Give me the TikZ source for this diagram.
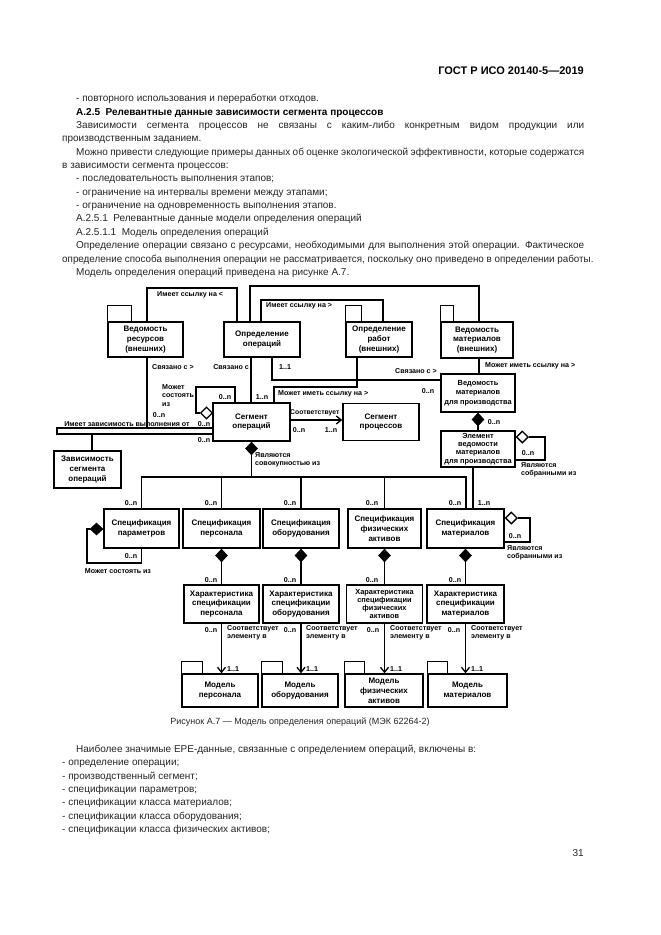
\documentclass[tikz,border=0pt]{standalone}
\usepackage{fontspec}
\setmainfont{Liberation Sans}
\usetikzlibrary{shapes.geometric,arrows.meta}
\newcommand\bxf{\fontsize{8}{9.8}\selectfont\bfseries}
\newcommand\bxh{\fontsize{7.4}{9.6}\selectfont\bfseries}
\newcommand\bxg{\fontsize{7.4}{8.3}\selectfont\bfseries}
\newcommand\lbf{\fontsize{7.1}{8.8}\selectfont\bfseries}
\newcommand\txf{\fontsize{10}{12}\selectfont}
\begin{document}
\begin{tikzpicture}[x=1pt,y=-1pt,
  box/.style={draw, line width=1.4pt, align=center, inner sep=0pt, font=\bxf},
  lbl/.style={inner sep=0pt, font=\lbf},
  txt/.style={inner sep=0pt, font=\txf, anchor=base west, text=black!85},
  conn/.style={line width=1.3pt},
  fdia/.style={diamond, draw, fill=black, line width=0.6pt, inner sep=0pt, minimum width=12pt, minimum height=13pt},
  odia/.style={diamond, draw, fill=white, line width=1.3pt, inner sep=0pt, minimum width=12pt, minimum height=12pt},
  arr/.style={conn, -{Straight Barb[length=5pt,width=8pt,line width=1.3pt]}},
  tabbox/.style={line width=1.4pt}
]
\useasboundingbox[fill=white] (0,0) rectangle (661,935);

% ---------- page text ----------
\node[txt, anchor=base east, text=black] (hdr) at (584,74) {\fontsize{11}{13}\selectfont\bfseries ГОСТ Р ИСО 20140-5—2019};
\node[txt] (t1) at (76,101.5) {- повторного использования и переработки отходов.};
\node[txt, text=black] (t2) at (76,115) {\bfseries А.2.5\ \ Релевантные данные зависимости сегмента процессов};
\node[txt] (t3) at (76,128.3) {\makebox[508pt][s]{Зависимости сегмента процессов не связаны с каким-либо конкретным видом продукции или}};
\node[txt] (t4) at (62,141.6) {производственным заданием.};
\node[txt] (t5) at (76,155) {\makebox[508pt][s]{Можно привести следующие примеры данных об оценке экологической эффективности, которые содержатся}};
\node[txt] (t6) at (62,168.4) {в зависимости сегмента процессов:};
\node[txt] (t7) at (76,181.8) {- последовательность выполнения этапов;};
\node[txt] (t8) at (76,195.2) {- ограничение на интервалы времени между этапами;};
\node[txt] (t9) at (76,208.5) {- ограничение на одновременность выполнения этапов.};
\node[txt] (t10) at (76,221.9) {А.2.5.1\ \ Релевантные данные модели определения операций};
\node[txt] (t11) at (76,235.3) {А.2.5.1.1\ \ Модель определения операций};
\node[txt] (t12) at (76,248.7) {\makebox[508pt][s]{Определение операции связано с ресурсами, необходимыми для выполнения этой операции. Фактическое}};
\node[txt] (t13) at (62,262.1) {\scalebox{0.984}[1]{определение способа выполнения операции не рассматривается, поскольку оно приведено в определении работы.}};
\node[txt] (t14) at (76,275.5) {Модель определения операций приведена на рисунке А.7.};

\node[txt, anchor=base] (cap) at (300,724) {\fontsize{9}{11}\selectfont Рисунок А.7 — Модель определения операций (МЭК 62264-2)};

\node[txt] (b1) at (76,752.5) {Наиболее значимые EPE-данные, связанные с определением операций, включены в:};
\node[txt] (b2) at (62,765.8) {- определение операции;};
\node[txt] (b3) at (62,779.1) {- производственный сегмент;};
\node[txt] (b4) at (62,792.4) {- спецификации параметров;};
\node[txt] (b5) at (62,805.7) {- спецификации класса материалов;};
\node[txt] (b6) at (62,819) {- спецификации класса оборудования;};
\node[txt] (b7) at (62,832.3) {- спецификации класса физических активов;};
\node[txt, anchor=base east] (pg) at (584,856) {31};

% ---------- boxes ----------
\node[box, minimum width=75pt, minimum height=35pt] (vr) at (145.5,339.5) {Ведомость\\ресурсов\\(внешних)};
\node[box, minimum width=76pt, minimum height=35pt] (oo) at (262,339.5) {Определение\\операций};
\node[box, minimum width=66pt, minimum height=35pt] (ow) at (379,339.5) {Определение\\работ\\(внешних)};
\node[box, minimum width=72pt, minimum height=36pt] (vm) at (477,340) {Ведомость\\материалов\\(внешних)};
\node[box, font=\bxh, minimum width=74pt, minimum height=38pt] (vmp) at (478,393) {Ведомость\\материалов\\для производства};
\node[box, minimum width=77pt, minimum height=38pt] (so) at (251.5,422) {Сегмент\\операций};
\node[box, minimum width=76pt, minimum height=37pt] (sp) at (381,422) {Сегмент\\процессов};
\node[box, minimum width=67pt, minimum height=37pt] (zso) at (87.5,469.5) {Зависимость\\сегмента\\операций};
\node[box, font=\bxg, minimum width=74pt, minimum height=36pt] (evm) at (478,449) {Элемент\\ведомости\\материалов\\для производства};

\node[box, minimum width=75pt, minimum height=39pt] (spp) at (141.5,528.5) {Спецификация\\параметров};
\node[box, minimum width=77pt, minimum height=39pt] (spe) at (221.5,528.5) {Спецификация\\персонала};
\node[box, minimum width=76pt, minimum height=39pt] (sob) at (301,528.5) {Спецификация\\оборудования};
\node[box, minimum width=73pt, minimum height=39pt] (sfa) at (384.5,528.5) {Спецификация\\физических\\активов};
\node[box, minimum width=77pt, minimum height=39pt] (smt) at (465.5,528.5) {Спецификация\\материалов};

\node[box, minimum width=75pt, minimum height=38pt] (cpe) at (221.5,604) {Характеристика\\спецификации\\персонала};
\node[box, minimum width=76pt, minimum height=38pt] (cob) at (301,604) {Характеристика\\спецификации\\оборудования};
\node[box, font=\bxg, minimum width=76pt, minimum height=38pt] (cfa) at (384.5,604) {Характеристика\\спецификации\\физических\\активов};
\node[box, minimum width=77pt, minimum height=38pt] (cmt) at (465.5,604) {Характеристика\\спецификации\\материалов};

\node[box, minimum width=76pt, minimum height=33pt] (mpe) at (220,690.5) {Модель\\персонала};
\node[box, minimum width=76pt, minimum height=33pt] (mob) at (300,690.5) {Модель\\оборудования};
\node[box, minimum width=78pt, minimum height=33pt] (mfa) at (384,690.5) {Модель\\физических\\активов};
\node[box, minimum width=79pt, minimum height=33pt] (mmt) at (467.5,690.5) {Модель\\материалов};

% package tabs
\draw[tabbox] (vr.north west) rectangle ++(24,-16);
\draw[tabbox] (ow.north west) rectangle ++(16,-16);
\draw[tabbox] (vm.north west) rectangle ++(13,-16);
\draw[tabbox] (mpe.north west) rectangle ++(21,-12);
\draw[tabbox] (mob.north west) rectangle ++(21,-12);
\draw[tabbox] (mfa.north west) rectangle ++(20,-12);
\draw[tabbox] (mmt.north west) rectangle ++(20,-12);

% ---------- connectors (top) ----------
\draw[conn] (vr.north -| 147,0) -- (147,288) -- (237,288) -- (oo.north -| 237,0);
\draw[conn] (oo.north -| 250,0) -- (250,286) -- (479,286) -- (vm.north -| 479,0);
\draw[conn] (oo.north -| 261,0) -- (261,300) -- (383,300) -- (ow.north -| 383,0);
\draw[conn] (vm.south -| 479,0) -- (vmp.north -| 479,0);
\draw[conn] (oo.south -| 251,0) -- (so.north -| 251,0);
\draw[conn] (oo.south -| 272,0) |- (vmp.west |- 0,380);
\draw[conn] (ow.south -| 357,0) |- (274,387) -- (so.north -| 274,0);
\draw[conn] (vr.south -| 147,0) -- (147,428);
\draw[conn] (so.west |- 0,428) -- (57,428) -- (57,434) -- (so.west |- 0,434);
\draw[conn] (92,434) -- (zso.north -| 92,0);
\node[odia] (d1) at (206.5,413) {};
\draw[conn] (d1.west) -- (196,413) -- (196,387) -- (235,387) -- (so.north -| 235,0);
\draw[arr] (so.east |- 0,420) -- (sp.west |- 0,420);

% ---------- composition tree ----------
\node[fdia, anchor=north] (d2) at (so.south) {};
\draw[conn] (d2.south) -- (d2.south |- 0,477);
\draw[conn] (spp.north) -- (spp.north |- 0,477) -- (466,477) -- (smt.north -| 466,0);
\draw[conn] (spe.north) -- (spe.north |- 0,477);
\draw[conn] (sob.north) -- (sob.north |- 0,477);
\draw[conn] (sfa.north) -- (sfa.north |- 0,477);

\node[fdia, anchor=north] (d3) at (vmp.south) {};
\draw[conn] (d3.south) -- (evm.north);
\node[odia, anchor=west] (d4) at (evm.east |- 0,437) {};
\draw[conn] (d4.east) -- (545,437) -- (545,460) -- (evm.east |- 0,460);
\draw[conn] (evm.south -| 473,0) -- (smt.north -| 473,0);

\node[fdia, anchor=east, minimum width=13pt, minimum height=12pt] (d5) at (spp.west |- 0,529) {};
\draw[conn] (d5.west) -- (87,529) -- (87,563) -- (spp.south |- 0,563) -- (spp.south);
\node[odia, anchor=west] (d6) at (smt.east |- 0,518) {};
\draw[conn] (d6.east) -- (530,518) -- (530,542) -- (smt.east |- 0,542);

\node[fdia, anchor=north] (d7) at (spe.south) {};
\draw[conn] (d7.south) -- (cpe.north);
\node[fdia, anchor=north] (d8) at (sob.south) {};
\draw[conn] (d8.south) -- (cob.north);
\node[fdia, anchor=north] (d9) at (sfa.south) {};
\draw[conn] (d9.south) -- (cfa.north);
\node[fdia, anchor=north] (d10) at (smt.south) {};
\draw[conn] (d10.south) -- (cmt.north);

\draw[arr] (cpe.south) -- (cpe.south |- mpe.north);
\draw[arr] (cob.south) -- (cob.south |- mob.north);
\draw[arr] (cfa.south) -- (cfa.south |- mfa.north);
\draw[arr] (cmt.south) -- (cmt.south |- mmt.north);

% ---------- labels ----------
\node[lbl, anchor=west] (l1) at (157,295) {Имеет ссылку на <};
\node[lbl, anchor=west] (l2) at (266,306) {Имеет ссылку на >};
\node[lbl, anchor=west] (l3) at (152,367) {Связано с >};
\node[lbl, anchor=east] (l4) at (249,367) {Связано с};
\node[lbl, anchor=west] (l5) at (279,367) {1..1};
\node[lbl, anchor=east] (l6) at (437,371) {Связано с >};
\node[lbl] (l7) at (428,391) {0..n};
\node[lbl, anchor=west] (l8) at (485,366) {Может иметь ссылку на >};
\node[lbl, anchor=north west, align=left] (l9) at (162,384) {Может\\состоять\\из};
\node[lbl] (l10) at (225,397) {0..n};
\node[lbl] (l11) at (262,397) {1..n};
\node[lbl, anchor=west] (l12) at (278,394) {Может иметь ссылку на >};
\node[lbl] (l13) at (159,415) {0..n};
\node[lbl] (l14) at (127,424) {Имеет зависимость выполнения от};
\node[lbl] (l15) at (204,424.5) {0..n};
\node[lbl] (l16) at (204,440) {0..n};
\node[lbl, anchor=west, font=\fontsize{6.8}{8}\selectfont\bfseries] (l17) at (290,413) {Соответствует};
\node[lbl] (l18) at (299,430) {0..n};
\node[lbl] (l19) at (331,430) {1..n};
\node[lbl, anchor=north west, align=left] (l20) at (255,452) {Являются\\совокупностью из};
\node[lbl] (l21) at (494,422) {0..n};
\node[lbl] (l22) at (528,453) {0..n};
\node[lbl, anchor=north west, align=left] (l23) at (521,462) {Являются\\собранными из};

\node[lbl] (s1) at (131,503) {0..n};
\node[lbl] (s2) at (211,503) {0..n};
\node[lbl] (s3) at (290,503) {0..n};
\node[lbl] (s4) at (372,503) {0..n};
\node[lbl] (s5) at (455,503) {0..n};
\node[lbl] (s6) at (484,503) {1..n};
\node[lbl] (s7) at (131,556) {0..n};
\node[lbl] (s8) at (118,571) {Может состоять из};
\node[lbl] (s9) at (515,536) {0..n};
\node[lbl, anchor=north west, align=left] (s10) at (507,545) {Являются\\собранными из};

\node[lbl] (c1) at (211,580) {0..n};
\node[lbl] (c2) at (290,580) {0..n};
\node[lbl] (c3) at (372,580) {0..n};
\node[lbl] (c4) at (455,580) {0..n};

\node[lbl] (m1) at (211,630) {0..n};
\node[lbl] (m2) at (290,630) {0..n};
\node[lbl] (m3) at (373,630) {0..n};
\node[lbl] (m4) at (454,630) {0..n};
\node[lbl, anchor=north west, align=left] (m5) at (227,625) {Соответствует\\элементу в};
\node[lbl, anchor=north west, align=left] (m6) at (306,625) {Соответствует\\элементу в};
\node[lbl, anchor=north west, align=left] (m7) at (390,625) {Соответствует\\элементу в};
\node[lbl, anchor=north west, align=left] (m8) at (471,625) {Соответствует\\элементу в};
\node[lbl, anchor=west] (m9) at (227,669) {1..1};
\node[lbl, anchor=west] (m10) at (306,669) {1..1};
\node[lbl, anchor=west] (m11) at (390,669) {1..1};
\node[lbl, anchor=west] (m12) at (471,669) {1..1};
\end{tikzpicture}
\end{document}
